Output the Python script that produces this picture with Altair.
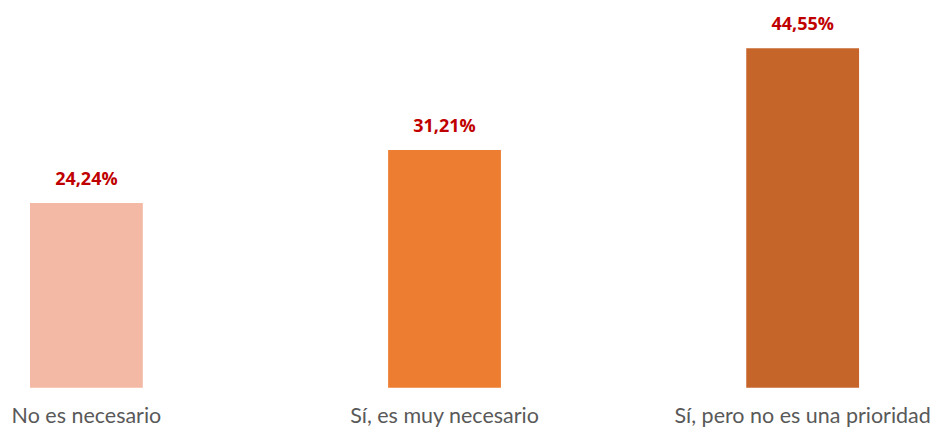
import altair as alt
import pandas as pd

categories = ["No es necesario", "Sí, es muy necesario", "Sí, pero no es una prioridad"]
values = [24.24, 31.21, 44.55]
labels = ["24,24%", "31,21%", "44,55%"]
colors = ["#F4B9A5", "#ED7D31", "#C5652A"]

df = pd.DataFrame({"cat": categories, "val": values, "lab": labels, "col": colors})

x = alt.X("cat:N", sort=categories, title=None,
          scale=alt.Scale(paddingInner=0.685, paddingOuter=0.0614),
          axis=alt.Axis(labelAngle=0, ticks=False, domain=False, labelPadding=18,
                        labelFontSize=21.5, labelColor="#595959", labelFont="Lato",
                        labelLimit=400))
y = alt.Y("val:Q", title=None, scale=alt.Scale(domain=[0, 49.8], nice=False, zero=True),
          axis=None)

bars = alt.Chart(df).mark_bar().encode(x=x, y=y, color=alt.Color("col:N", scale=None))
text = alt.Chart(df).mark_text(baseline="bottom", dy=-14, fontSize=18, fontWeight="bold",
                               font="Open Sans", color="#C00000").encode(
    x=alt.X("cat:N", sort=categories), y="val:Q", text="lab:N")

chart = (bars + text).properties(width=874, height=380, padding=0).configure_view(stroke=None)
chart.save("out.html", embed_options={"renderer": "svg", "actions": False})
